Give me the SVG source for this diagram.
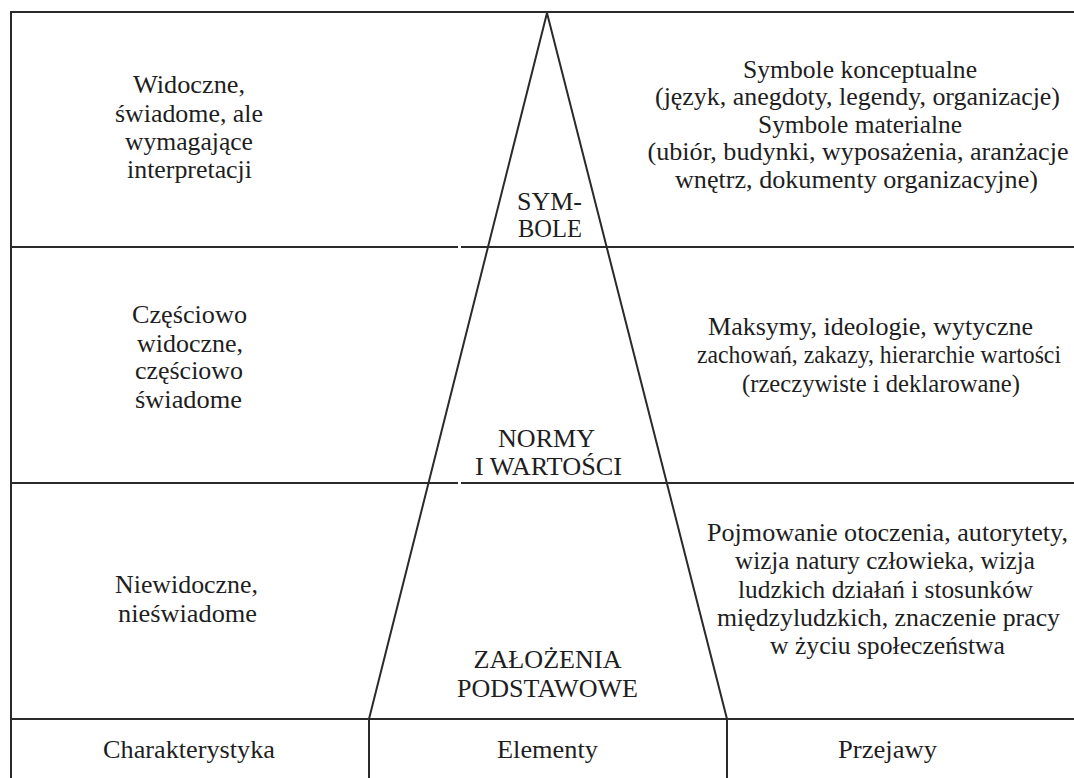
<svg xmlns="http://www.w3.org/2000/svg" width="1074" height="778" viewBox="0 0 1074 778">
<style>
.ln{stroke:#2a2a2a;stroke-width:2;fill:none}
text{font-family:'Liberation Serif',serif;font-size:26px;fill:#1e1e1e;text-anchor:middle}
</style>
<rect width="1074" height="778" fill="#ffffff"/>
<g id="connectors">
<line class="ln" x1="11" y1="12" x2="1074" y2="12"/>
<line class="ln" x1="11" y1="11" x2="11" y2="778"/>
<line class="ln" x1="11" y1="247" x2="458" y2="247"/>
<line class="ln" x1="461" y1="247" x2="1074" y2="247"/>
<line class="ln" x1="11" y1="483" x2="458" y2="483"/>
<line class="ln" x1="461" y1="483" x2="1074" y2="483"/>
<line class="ln" x1="11" y1="719" x2="1074" y2="719"/>
<line class="ln" x1="369" y1="719" x2="369" y2="778"/>
<line class="ln" x1="727" y1="719" x2="727" y2="778"/>
<polyline class="ln" points="369,719 547,13 727,719"/>
</g>
<g id="char-symbole" font-family="Liberation Serif">
<text x="189" y="93" textLength="112" lengthAdjust="spacingAndGlyphs">Widoczne,</text>
<text x="189" y="122" textLength="148" lengthAdjust="spacingAndGlyphs">świadome, ale</text>
<text x="189" y="150" textLength="128" lengthAdjust="spacingAndGlyphs">wymagające</text>
<text x="189.5" y="178" textLength="125" lengthAdjust="spacingAndGlyphs">interpretacji</text>
</g>
<g id="char-normy" font-family="Liberation Serif">
<text x="189.5" y="323" textLength="115" lengthAdjust="spacingAndGlyphs">Częściowo</text>
<text x="190" y="352" textLength="106" lengthAdjust="spacingAndGlyphs">widoczne,</text>
<text x="189" y="379" textLength="108" lengthAdjust="spacingAndGlyphs">częściowo</text>
<text x="188.5" y="408" textLength="107" lengthAdjust="spacingAndGlyphs">świadome</text>
</g>
<g id="char-zalozenia" font-family="Liberation Serif">
<text x="186.5" y="593" textLength="143" lengthAdjust="spacingAndGlyphs">Niewidoczne,</text>
<text x="187.5" y="622" textLength="139" lengthAdjust="spacingAndGlyphs">nieświadome</text>
</g>
<g id="el-symbole" font-family="Liberation Serif">
<text x="549.5" y="210" textLength="65" lengthAdjust="spacingAndGlyphs">SYM-</text>
<text x="550" y="237" textLength="64" lengthAdjust="spacingAndGlyphs">BOLE</text>
</g>
<g id="el-normy" font-family="Liberation Serif">
<text x="546.5" y="447" textLength="97" lengthAdjust="spacingAndGlyphs">NORMY</text>
<text x="548.5" y="475" textLength="147" lengthAdjust="spacingAndGlyphs">I WARTOŚCI</text>
</g>
<g id="el-zalozenia" font-family="Liberation Serif">
<text x="547.5" y="668" textLength="148" lengthAdjust="spacingAndGlyphs">ZAŁOŻENIA</text>
<text x="547.5" y="697" textLength="181" lengthAdjust="spacingAndGlyphs">PODSTAWOWE</text>
</g>
<g id="prz-symbole" font-family="Liberation Serif">
<text x="860" y="78" textLength="234" lengthAdjust="spacingAndGlyphs">Symbole konceptualne</text>
<text x="857.5" y="105" textLength="405" lengthAdjust="spacingAndGlyphs">(język, anegdoty, legendy, organizacje)</text>
<text x="860" y="133" textLength="204" lengthAdjust="spacingAndGlyphs">Symbole materialne</text>
<text x="858" y="160" textLength="421" lengthAdjust="spacingAndGlyphs">(ubiór, budynki, wyposażenia, aranżacje</text>
<text x="856.5" y="188" textLength="363" lengthAdjust="spacingAndGlyphs">wnętrz, dokumenty organizacyjne)</text>
</g>
<g id="prz-normy" font-family="Liberation Serif">
<text x="870.5" y="335" textLength="325" lengthAdjust="spacingAndGlyphs">Maksymy, ideologie, wytyczne</text>
<text x="879" y="363" textLength="364" lengthAdjust="spacingAndGlyphs">zachowań, zakazy, hierarchie wartości</text>
<text x="881" y="392" textLength="278" lengthAdjust="spacingAndGlyphs">(rzeczywiste i deklarowane)</text>
</g>
<g id="prz-zalozenia" font-family="Liberation Serif">
<text x="887.5" y="541" textLength="361" lengthAdjust="spacingAndGlyphs">Pojmowanie otoczenia, autorytety,</text>
<text x="885" y="569" textLength="300" lengthAdjust="spacingAndGlyphs">wizja natury człowieka, wizja</text>
<text x="885.5" y="598" textLength="295" lengthAdjust="spacingAndGlyphs">ludzkich działań i stosunków</text>
<text x="888.5" y="626" textLength="343" lengthAdjust="spacingAndGlyphs">międzyludzkich, znaczenie pracy</text>
<text x="887.5" y="654" textLength="235" lengthAdjust="spacingAndGlyphs">w życiu społeczeństwa</text>
</g>
<g id="header" font-family="Liberation Serif">
<text x="189" y="758" textLength="172" lengthAdjust="spacingAndGlyphs">Charakterystyka</text>
<text x="547.5" y="758" textLength="101" lengthAdjust="spacingAndGlyphs">Elementy</text>
<text x="887.5" y="758" textLength="99" lengthAdjust="spacingAndGlyphs">Przejawy</text>
</g>
</svg>
